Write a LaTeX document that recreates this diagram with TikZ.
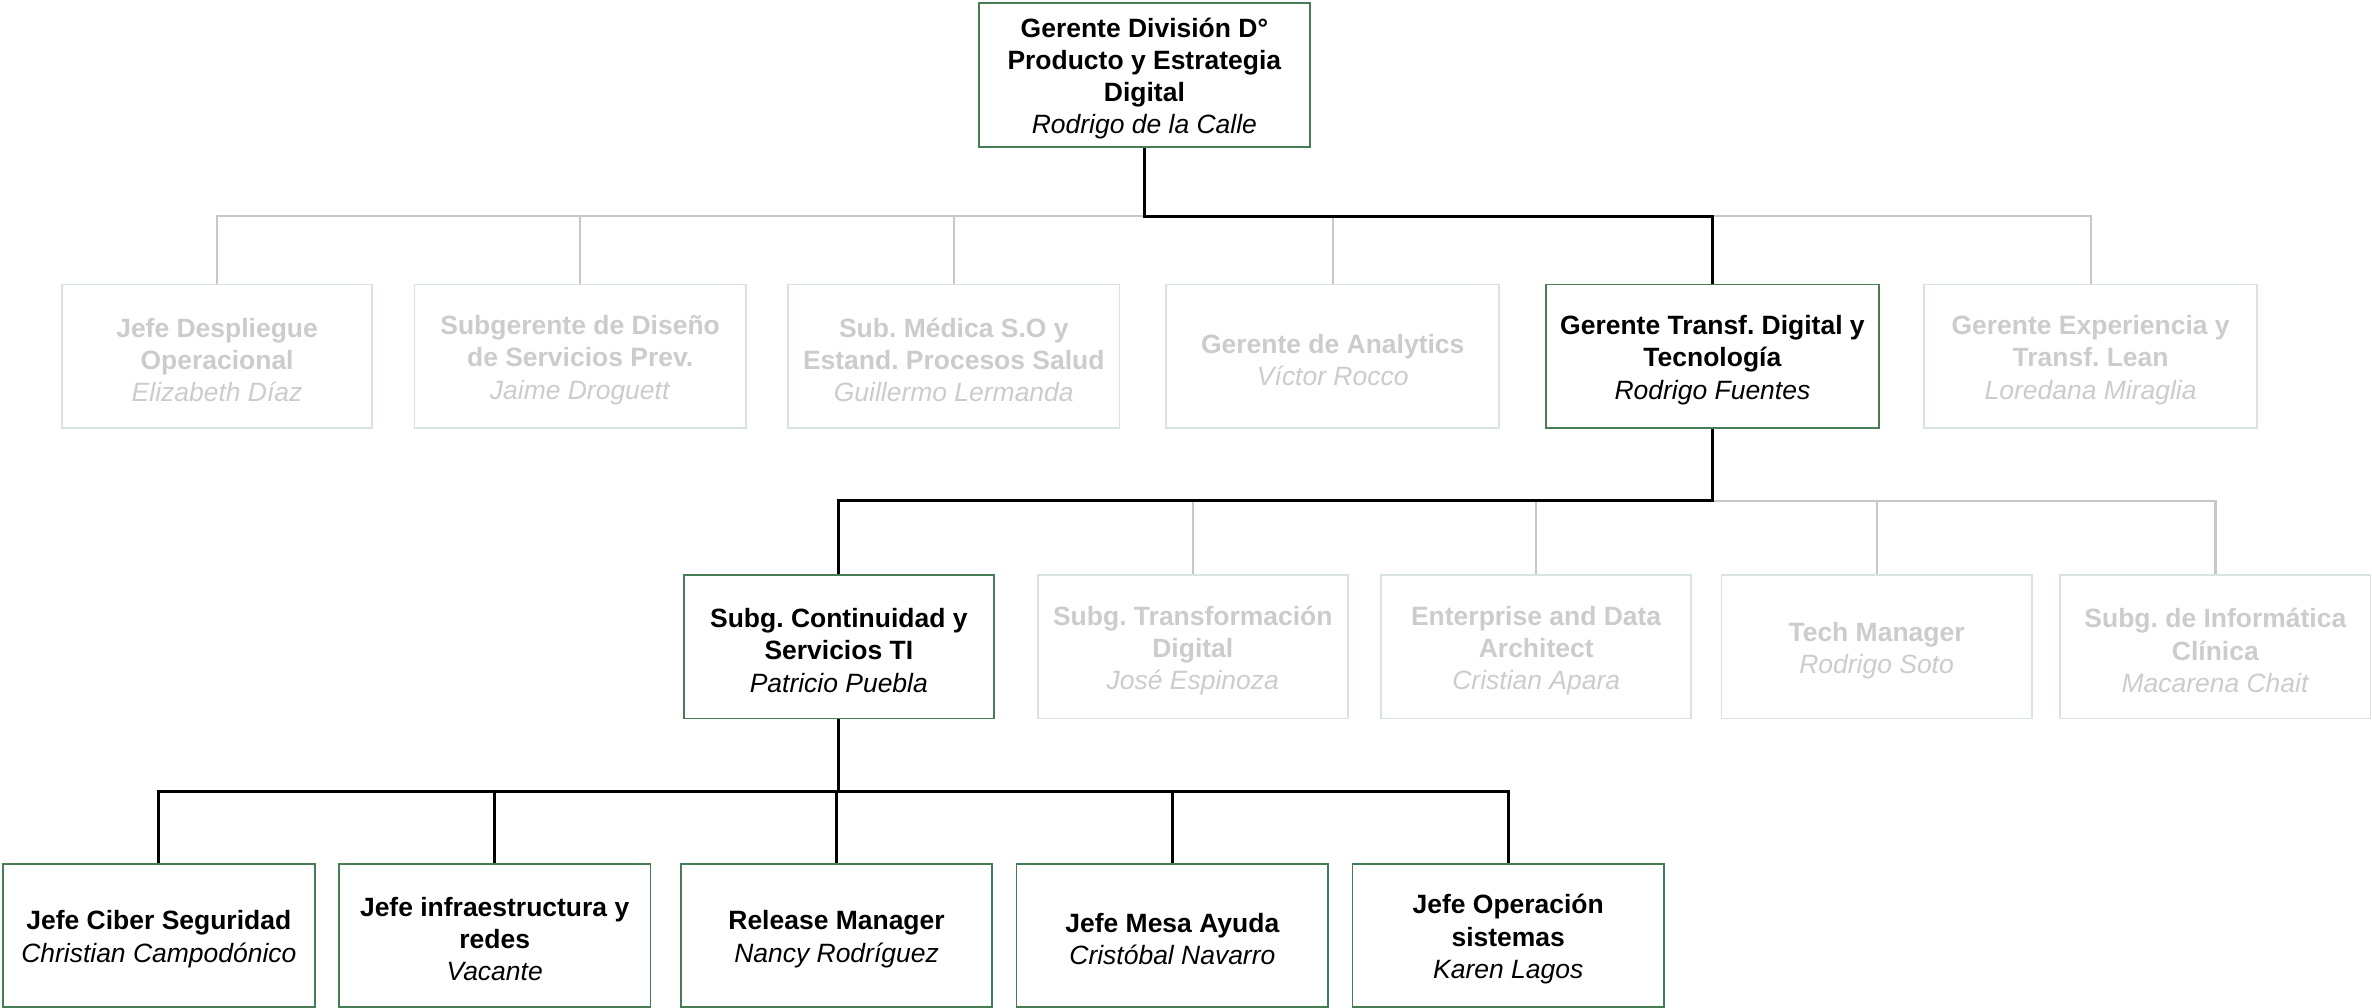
\documentclass[tikz,border=0pt]{standalone}
\usepackage{fontspec}
\setmainfont{Liberation Sans}
\frenchspacing
\definecolor{grn}{RGB}{70,125,84}
\definecolor{lightbd}{RGB}{216,228,220}
\definecolor{lighttx}{RGB}{204,204,204}
\definecolor{lightln}{RGB}{200,200,200}
\tikzset{
  orgbox/.style={draw=grn, line width=0.6pt, fill=white, inner sep=0pt, minimum height=47.5pt},
  fadedbox/.style={orgbox, draw=lightbd},
  orgbox text/.style={align=center, inner sep=0pt, text=black,
    font=\fontsize{8.75}{10.65}\selectfont\frenchspacing},
  fadedbox text/.style={orgbox text, text=lighttx},
  darkline/.style={draw=black, line width=0.9pt},
  fadeline/.style={draw=lightln, line width=0.7pt},
}
% #1 style, #2 width, #3 height, #4 name, #5 position, #6 text
\newcommand\chartbox[6]{%
  \node[#1, minimum width=#2, minimum height=#3] (#4) at (#5) {};
  \node[#1 text] (#4t) at ([yshift=-1.25pt]#4.center) {#6};}
\begin{document}
\begin{tikzpicture}[x=0.5pt,y=-0.5pt]
\useasboundingbox (0,0) rectangle (1568,666);
% top
\chartbox{orgbox}{109.5pt}{47.5pt}{top}{756.5,49.5}
  {\textbf{Gerente División D°}\\\textbf{Producto y Estrategia}\\\textbf{Digital}\\\textit{Rodrigo de la Calle}}
% row 2
\chartbox{fadedbox}{102.5pt}{47.5pt}{b1}{143.5,235.5}
  {\textbf{Jefe Despliegue}\\\textbf{Operacional}\\\textit{Elizabeth Díaz}}
\chartbox{fadedbox}{109.5pt}{47.5pt}{b2}{383.5,235.5}
  {\textbf{Subgerente de Diseño}\\\textbf{de Servicios Prev.}\\\textit{Jaime Droguett}}
\chartbox{fadedbox}{109.5pt}{47.5pt}{b3}{630.5,235.5}
  {\textbf{Sub. Médica S.O y}\\\textbf{Estand. Procesos Salud}\\\textit{Guillermo Lermanda}}
\chartbox{fadedbox}{110pt}{47.5pt}{b4}{881,235.5}
  {\textbf{Gerente de Analytics}\\\textit{Víctor Rocco}}
\chartbox{orgbox}{110pt}{47.5pt}{b5}{1132,235.5}
  {\textbf{Gerente Transf. Digital y}\\\textbf{Tecnología}\\\textit{Rodrigo Fuentes}}
\chartbox{fadedbox}{110pt}{47.5pt}{b6}{1382,235.5}
  {\textbf{Gerente Experiencia y}\\\textbf{Transf. Lean}\\\textit{Loredana Miraglia}}
% row 3
\chartbox{orgbox}{102.5pt}{47.5pt}{c1}{554.5,427.5}
  {\textbf{Subg. Continuidad y}\\\textbf{Servicios TI}\\\textit{Patricio Puebla}}
\chartbox{fadedbox}{102.5pt}{47.5pt}{c2}{788.5,427.5}
  {\textbf{Subg. Transformación}\\\textbf{Digital}\\\textit{José Espinoza}}
\chartbox{fadedbox}{102.5pt}{47.5pt}{c3}{1015.5,427.5}
  {\textbf{Enterprise and Data}\\\textbf{Architect}\\\textit{Cristian Apara}}
\chartbox{fadedbox}{102.5pt}{47.5pt}{c4}{1240.5,427.5}
  {\textbf{Tech Manager}\\\textit{Rodrigo Soto}}
\chartbox{fadedbox}{102.5pt}{47.5pt}{c5}{1464.5,427.5}
  {\textbf{Subg. de Informática}\\\textbf{Clínica}\\\textit{Macarena Chait}}
% row 4
\chartbox{orgbox}{103pt}{47.25pt}{d1}{105,618.25}
  {\textbf{Jefe Ciber Seguridad}\\\textit{Christian Campodónico}}
\chartbox{orgbox}{103pt}{47.25pt}{d2}{327,618.25}
  {\textbf{Jefe infraestructura y}\\\textbf{redes}\\\textit{Vacante}}
\chartbox{orgbox}{103pt}{47.25pt}{d3}{553,618.25}
  {\textbf{Release Manager}\\\textit{Nancy Rodríguez}}
\chartbox{orgbox}{103pt}{47.25pt}{d4}{775,618.25}
  {\textbf{Jefe Mesa Ayuda}\\\textit{Cristóbal Navarro}}
\chartbox{orgbox}{103pt}{47.25pt}{d5}{997,618.25}
  {\textbf{Jefe Operación}\\\textbf{sistemas}\\\textit{Karen Lagos}}
% junction levels
\coordinate (j1) at (756.5,143);
\coordinate (j2) at (1132,331);
\coordinate (j3) at (554.5,523);
% faded connectors
\foreach \c in {b1,b2,b3,b4,b6}
  \draw[fadeline] (top.south) -- (top.south |- j1) -| (\c.north);
\foreach \c in {c2,c3,c4,c5}
  \draw[fadeline] (b5.south) -- (b5.south |- j2) -| (\c.north);
% dark connectors
\draw[darkline] (top.south) -- (top.south |- j1) -| (b5.north);
\draw[darkline] (b5.south) -- (b5.south |- j2) -| (c1.north);
\foreach \c in {d1,d2,d3,d4,d5}
  \draw[darkline] (c1.south) -- (c1.south |- j3) -| (\c.north);
\end{tikzpicture}
\end{document}
